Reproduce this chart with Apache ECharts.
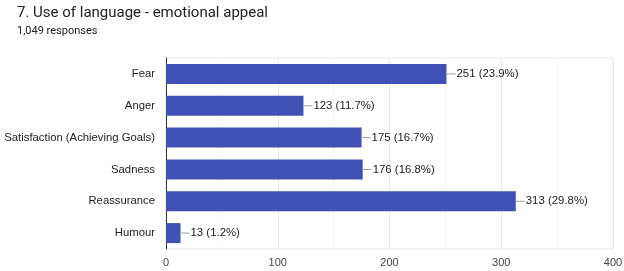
<!DOCTYPE html>
<html><head><meta charset="utf-8">
<script src="https://cdn.jsdelivr.net/npm/echarts@6/dist/echarts.min.js"></script>
<style>html,body{margin:0;padding:0;background:#fff}#c{width:624px;height:271px}</style>
</head><body><div id="c"></div>
<script>
const categories = ["Fear", "Anger", "Satisfaction (Achieving Goals)", "Sadness", "Reassurance", "Humour"];
const counts = [251, 123, 175, 176, 313, 13];
const percents = ["23.9%", "11.7%", "16.7%", "16.8%", "29.8%", "1.2%"];
const xTicks = [0, 100, 200, 300, 400];

const chart = echarts.init(document.getElementById('c'), null, {renderer: 'canvas'});
chart.setOption({
  animation: false,
  title: [{
    text: '7. Use of language - emotional appeal', left: 12, top: 1,
    textStyle: {fontFamily: 'Roboto', fontSize: 15, fontWeight: 'normal', color: '#202124'}
  }, {
    text: '1,049 responses', left: 12, top: 21,
    textStyle: {fontFamily: 'Roboto', fontSize: 11, fontWeight: 'normal', color: '#202124'}
  }],
  grid: {left: 166, right: 11, top: 58, bottom: 22, outerBoundsMode: 'none', containLabel: false,
         show: true, borderColor: '#e8e8e8', borderWidth: 1},
  xAxis: {
    type: 'value', min: xTicks[0], max: xTicks[xTicks.length - 1], interval: 100,
    axisLine: {show: false}, axisTick: {show: false},
    minorTick: {show: false, splitNumber: 2},
    minorSplitLine: {show: true, lineStyle: {color: '#f4f4f4'}},
    axisLabel: {fontFamily: 'Liberation Sans', fontSize: 11, color: '#444', margin: 8},
    splitLine: {lineStyle: {color: '#e8e8e8'}}
  },
  yAxis: {
    type: 'category', data: categories, inverse: true,
    axisLine: {lineStyle: {color: '#333', width: 1}}, axisTick: {show: false},
    axisLabel: {fontFamily: 'Liberation Sans', fontSize: 11.3, color: '#222', margin: 11}
  },
  series: [{
    type: 'bar', data: counts, barWidth: 20,
    itemStyle: {color: '#3f51b5'},
    label: {
      show: true, position: 'right', distance: 0,
      formatter: p => '{ln|}{t|' + counts[p.dataIndex] + ' (' + percents[p.dataIndex] + ')}',
      rich: {
        ln: {width: 9, height: 1, backgroundColor: '#9e9e9e'},
        t: {fontFamily: 'Liberation Sans', fontSize: 11.4, color: '#222', padding: [0, 0, 0, 1]}
      }
    }
  }]
});
</script></body></html>
